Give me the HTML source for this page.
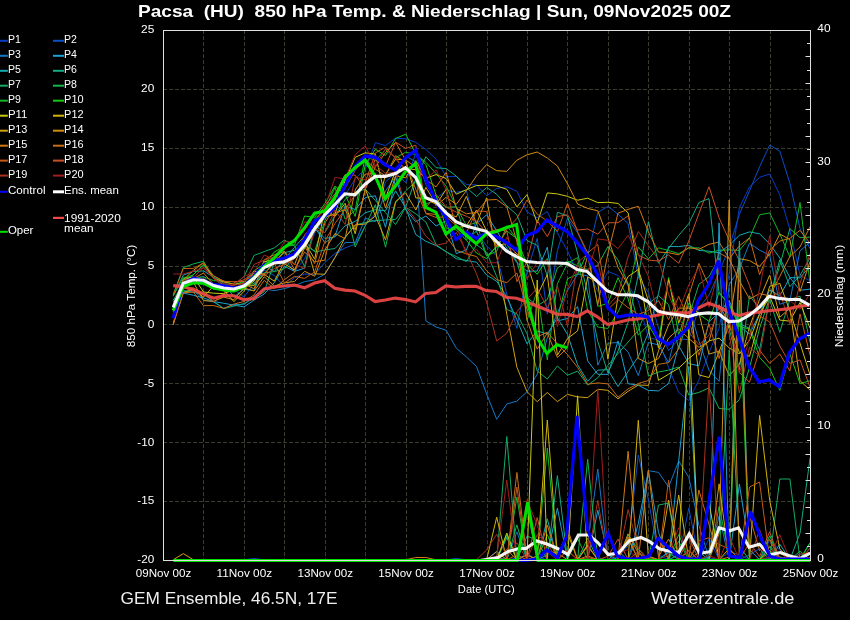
<!DOCTYPE html>
<html><head><meta charset="utf-8"><style>
html,body{margin:0;padding:0;background:#000;width:850px;height:620px;overflow:hidden}
svg{display:block;will-change:transform}
</style></head><body>
<svg width="850" height="620" viewBox="0 0 850 620" font-family='"Liberation Sans", sans-serif'><text x="138" y="17.3" font-size="16.2" text-anchor="start" fill="#fff" font-weight="bold" textLength="593" lengthAdjust="spacingAndGlyphs" xml:space="preserve">Pacsa  (HU)  850 hPa Temp. &amp; Niederschlag | Sun, 09Nov2025 00Z</text>
<line x1="203.5" y1="30.5" x2="203.5" y2="560.5" stroke="#3c3c2e" stroke-width="1" stroke-dasharray="4,2" stroke-dashoffset="0.4"/>
<line x1="244.5" y1="30.5" x2="244.5" y2="560.5" stroke="#3c3c2e" stroke-width="1" stroke-dasharray="4,2" stroke-dashoffset="0.4"/>
<line x1="284.5" y1="30.5" x2="284.5" y2="560.5" stroke="#3c3c2e" stroke-width="1" stroke-dasharray="4,2" stroke-dashoffset="0.4"/>
<line x1="325.5" y1="30.5" x2="325.5" y2="560.5" stroke="#3c3c2e" stroke-width="1" stroke-dasharray="4,2" stroke-dashoffset="0.4"/>
<line x1="365.5" y1="30.5" x2="365.5" y2="560.5" stroke="#3c3c2e" stroke-width="1" stroke-dasharray="4,2" stroke-dashoffset="0.4"/>
<line x1="406.5" y1="30.5" x2="406.5" y2="560.5" stroke="#3c3c2e" stroke-width="1" stroke-dasharray="4,2" stroke-dashoffset="0.4"/>
<line x1="446.5" y1="30.5" x2="446.5" y2="560.5" stroke="#3c3c2e" stroke-width="1" stroke-dasharray="4,2" stroke-dashoffset="0.4"/>
<line x1="487.5" y1="30.5" x2="487.5" y2="560.5" stroke="#3c3c2e" stroke-width="1" stroke-dasharray="4,2" stroke-dashoffset="0.4"/>
<line x1="527.5" y1="30.5" x2="527.5" y2="560.5" stroke="#3c3c2e" stroke-width="1" stroke-dasharray="4,2" stroke-dashoffset="0.4"/>
<line x1="567.5" y1="30.5" x2="567.5" y2="560.5" stroke="#3c3c2e" stroke-width="1" stroke-dasharray="4,2" stroke-dashoffset="0.4"/>
<line x1="608.5" y1="30.5" x2="608.5" y2="560.5" stroke="#3c3c2e" stroke-width="1" stroke-dasharray="4,2" stroke-dashoffset="0.4"/>
<line x1="648.5" y1="30.5" x2="648.5" y2="560.5" stroke="#3c3c2e" stroke-width="1" stroke-dasharray="4,2" stroke-dashoffset="0.4"/>
<line x1="689.5" y1="30.5" x2="689.5" y2="560.5" stroke="#3c3c2e" stroke-width="1" stroke-dasharray="4,2" stroke-dashoffset="0.4"/>
<line x1="729.5" y1="30.5" x2="729.5" y2="560.5" stroke="#3c3c2e" stroke-width="1" stroke-dasharray="4,2" stroke-dashoffset="0.4"/>
<line x1="770.5" y1="30.5" x2="770.5" y2="560.5" stroke="#3c3c2e" stroke-width="1" stroke-dasharray="4,2" stroke-dashoffset="0.4"/>
<line x1="163.5" y1="89.5" x2="810.5" y2="89.5" stroke="#3c3c2e" stroke-width="1" stroke-dasharray="4,2" stroke-dashoffset="0.4"/>
<line x1="163.5" y1="148.5" x2="810.5" y2="148.5" stroke="#3c3c2e" stroke-width="1" stroke-dasharray="4,2" stroke-dashoffset="0.4"/>
<line x1="163.5" y1="207.5" x2="810.5" y2="207.5" stroke="#3c3c2e" stroke-width="1" stroke-dasharray="4,2" stroke-dashoffset="0.4"/>
<line x1="163.5" y1="266.5" x2="810.5" y2="266.5" stroke="#3c3c2e" stroke-width="1" stroke-dasharray="4,2" stroke-dashoffset="0.4"/>
<line x1="163.5" y1="324.5" x2="810.5" y2="324.5" stroke="#3c3c2e" stroke-width="1" stroke-dasharray="4,2" stroke-dashoffset="0.4"/>
<line x1="163.5" y1="383.5" x2="810.5" y2="383.5" stroke="#3c3c2e" stroke-width="1" stroke-dasharray="4,2" stroke-dashoffset="0.4"/>
<line x1="163.5" y1="442.5" x2="810.5" y2="442.5" stroke="#3c3c2e" stroke-width="1" stroke-dasharray="4,2" stroke-dashoffset="0.4"/>
<line x1="163.5" y1="501.5" x2="810.5" y2="501.5" stroke="#3c3c2e" stroke-width="1" stroke-dasharray="4,2" stroke-dashoffset="0.4"/>
<text x="154.3" y="33.3" font-size="10.6" text-anchor="end" fill="#fff" font-weight="normal" textLength="13.23" lengthAdjust="spacingAndGlyphs">25</text>
<text x="154.3" y="92.18888888888888" font-size="10.6" text-anchor="end" fill="#fff" font-weight="normal" textLength="13.23" lengthAdjust="spacingAndGlyphs">20</text>
<text x="154.3" y="151.07777777777778" font-size="10.6" text-anchor="end" fill="#fff" font-weight="normal" textLength="13.23" lengthAdjust="spacingAndGlyphs">15</text>
<text x="154.3" y="209.96666666666667" font-size="10.6" text-anchor="end" fill="#fff" font-weight="normal" textLength="13.23" lengthAdjust="spacingAndGlyphs">10</text>
<text x="154.3" y="268.85555555555555" font-size="10.6" text-anchor="end" fill="#fff" font-weight="normal" textLength="6.62" lengthAdjust="spacingAndGlyphs">5</text>
<text x="154.3" y="327.74444444444447" font-size="10.6" text-anchor="end" fill="#fff" font-weight="normal" textLength="6.62" lengthAdjust="spacingAndGlyphs">0</text>
<text x="154.3" y="386.6333333333333" font-size="10.6" text-anchor="end" fill="#fff" font-weight="normal" textLength="10.37" lengthAdjust="spacingAndGlyphs">-5</text>
<text x="154.3" y="445.52222222222224" font-size="10.6" text-anchor="end" fill="#fff" font-weight="normal" textLength="16.99" lengthAdjust="spacingAndGlyphs">-10</text>
<text x="154.3" y="504.4111111111111" font-size="10.6" text-anchor="end" fill="#fff" font-weight="normal" textLength="16.99" lengthAdjust="spacingAndGlyphs">-15</text>
<text x="154.3" y="563.3" font-size="10.6" text-anchor="end" fill="#fff" font-weight="normal" textLength="16.99" lengthAdjust="spacingAndGlyphs">-20</text>
<text x="817.3" y="561.8" font-size="10.6" text-anchor="start" fill="#fff" font-weight="normal" textLength="6.62" lengthAdjust="spacingAndGlyphs">0</text>
<text x="817.3" y="429.4" font-size="10.6" text-anchor="start" fill="#fff" font-weight="normal" textLength="13.23" lengthAdjust="spacingAndGlyphs">10</text>
<text x="817.3" y="297.0" font-size="10.6" text-anchor="start" fill="#fff" font-weight="normal" textLength="13.23" lengthAdjust="spacingAndGlyphs">20</text>
<text x="817.3" y="164.60000000000002" font-size="10.6" text-anchor="start" fill="#fff" font-weight="normal" textLength="13.23" lengthAdjust="spacingAndGlyphs">30</text>
<text x="817.3" y="32.199999999999996" font-size="10.6" text-anchor="start" fill="#fff" font-weight="normal" textLength="13.23" lengthAdjust="spacingAndGlyphs">40</text>
<text x="163.5" y="577" font-size="10.6" text-anchor="middle" fill="#fff" font-weight="normal" textLength="55.53" lengthAdjust="spacingAndGlyphs">09Nov 00z</text>
<text x="244.375" y="577" font-size="10.6" text-anchor="middle" fill="#fff" font-weight="normal" textLength="55.53" lengthAdjust="spacingAndGlyphs">11Nov 00z</text>
<text x="325.25" y="577" font-size="10.6" text-anchor="middle" fill="#fff" font-weight="normal" textLength="55.53" lengthAdjust="spacingAndGlyphs">13Nov 00z</text>
<text x="406.125" y="577" font-size="10.6" text-anchor="middle" fill="#fff" font-weight="normal" textLength="55.53" lengthAdjust="spacingAndGlyphs">15Nov 00z</text>
<text x="487.0" y="577" font-size="10.6" text-anchor="middle" fill="#fff" font-weight="normal" textLength="55.53" lengthAdjust="spacingAndGlyphs">17Nov 00z</text>
<text x="567.875" y="577" font-size="10.6" text-anchor="middle" fill="#fff" font-weight="normal" textLength="55.53" lengthAdjust="spacingAndGlyphs">19Nov 00z</text>
<text x="648.75" y="577" font-size="10.6" text-anchor="middle" fill="#fff" font-weight="normal" textLength="55.53" lengthAdjust="spacingAndGlyphs">21Nov 00z</text>
<text x="729.625" y="577" font-size="10.6" text-anchor="middle" fill="#fff" font-weight="normal" textLength="55.53" lengthAdjust="spacingAndGlyphs">23Nov 00z</text>
<text x="810.5" y="577" font-size="10.6" text-anchor="middle" fill="#fff" font-weight="normal" textLength="55.53" lengthAdjust="spacingAndGlyphs">25Nov 00z</text>
<text x="486.3" y="592.6" font-size="10.6" text-anchor="middle" fill="#fff" font-weight="normal" textLength="56.9" lengthAdjust="spacingAndGlyphs">Date (UTC)</text>
<text transform="translate(134.6,296) rotate(-90)" font-size="10.6" text-anchor="middle" fill="#fff" textLength="102.5" lengthAdjust="spacingAndGlyphs">850 hPa Temp. (°C)</text>
<text transform="translate(843,296) rotate(-90)" font-size="10.6" text-anchor="middle" fill="#fff" textLength="102.5" lengthAdjust="spacingAndGlyphs">Niederschlag (mm)</text>
<text x="120.5" y="604" font-size="15.8" text-anchor="start" fill="#eee" font-weight="normal" textLength="217" lengthAdjust="spacingAndGlyphs">GEM Ensemble, 46.5N, 17E</text>
<text x="651" y="604" font-size="15.8" text-anchor="start" fill="#eee" font-weight="normal" textLength="143.5" lengthAdjust="spacingAndGlyphs">Wetterzentrale.de</text>
<line x1="0" y1="40.8" x2="7.8" y2="40.8" stroke="#0a3cc8" stroke-width="2"/>
<text x="7.8999999999999995" y="43.0" font-size="10.6" text-anchor="start" fill="#fff" font-weight="normal" textLength="12.89" lengthAdjust="spacingAndGlyphs">P1</text>
<line x1="53" y1="40.8" x2="64" y2="40.8" stroke="#0a50c8" stroke-width="2"/>
<text x="64.1" y="43.0" font-size="10.6" text-anchor="start" fill="#fff" font-weight="normal" textLength="12.89" lengthAdjust="spacingAndGlyphs">P2</text>
<line x1="0" y1="55.8" x2="7.8" y2="55.8" stroke="#1478c8" stroke-width="2"/>
<text x="7.8999999999999995" y="57.980000000000004" font-size="10.6" text-anchor="start" fill="#fff" font-weight="normal" textLength="12.89" lengthAdjust="spacingAndGlyphs">P3</text>
<line x1="53" y1="55.8" x2="64" y2="55.8" stroke="#1ea0d2" stroke-width="2"/>
<text x="64.1" y="57.980000000000004" font-size="10.6" text-anchor="start" fill="#fff" font-weight="normal" textLength="12.89" lengthAdjust="spacingAndGlyphs">P4</text>
<line x1="0" y1="70.8" x2="7.8" y2="70.8" stroke="#14aab4" stroke-width="2"/>
<text x="7.8999999999999995" y="72.96" font-size="10.6" text-anchor="start" fill="#fff" font-weight="normal" textLength="12.89" lengthAdjust="spacingAndGlyphs">P5</text>
<line x1="53" y1="70.8" x2="64" y2="70.8" stroke="#14aa82" stroke-width="2"/>
<text x="64.1" y="72.96" font-size="10.6" text-anchor="start" fill="#fff" font-weight="normal" textLength="12.89" lengthAdjust="spacingAndGlyphs">P6</text>
<line x1="0" y1="85.7" x2="7.8" y2="85.7" stroke="#14aa64" stroke-width="2"/>
<text x="7.8999999999999995" y="87.94" font-size="10.6" text-anchor="start" fill="#fff" font-weight="normal" textLength="12.89" lengthAdjust="spacingAndGlyphs">P7</text>
<line x1="53" y1="85.7" x2="64" y2="85.7" stroke="#14b450" stroke-width="2"/>
<text x="64.1" y="87.94" font-size="10.6" text-anchor="start" fill="#fff" font-weight="normal" textLength="12.89" lengthAdjust="spacingAndGlyphs">P8</text>
<line x1="0" y1="100.7" x2="7.8" y2="100.7" stroke="#14b428" stroke-width="2"/>
<text x="7.8999999999999995" y="102.92" font-size="10.6" text-anchor="start" fill="#fff" font-weight="normal" textLength="12.89" lengthAdjust="spacingAndGlyphs">P9</text>
<line x1="53" y1="100.7" x2="64" y2="100.7" stroke="#14c814" stroke-width="2"/>
<text x="64.1" y="102.92" font-size="10.6" text-anchor="start" fill="#fff" font-weight="normal" textLength="19.51" lengthAdjust="spacingAndGlyphs">P10</text>
<line x1="0" y1="115.7" x2="7.8" y2="115.7" stroke="#c8c814" stroke-width="2"/>
<text x="7.8999999999999995" y="117.9" font-size="10.6" text-anchor="start" fill="#fff" font-weight="normal" textLength="19.51" lengthAdjust="spacingAndGlyphs">P11</text>
<line x1="53" y1="115.7" x2="64" y2="115.7" stroke="#d2b40a" stroke-width="2"/>
<text x="64.1" y="117.9" font-size="10.6" text-anchor="start" fill="#fff" font-weight="normal" textLength="19.51" lengthAdjust="spacingAndGlyphs">P12</text>
<line x1="0" y1="130.7" x2="7.8" y2="130.7" stroke="#d2a014" stroke-width="2"/>
<text x="7.8999999999999995" y="132.88" font-size="10.6" text-anchor="start" fill="#fff" font-weight="normal" textLength="19.51" lengthAdjust="spacingAndGlyphs">P13</text>
<line x1="53" y1="130.7" x2="64" y2="130.7" stroke="#d28c14" stroke-width="2"/>
<text x="64.1" y="132.88" font-size="10.6" text-anchor="start" fill="#fff" font-weight="normal" textLength="19.51" lengthAdjust="spacingAndGlyphs">P14</text>
<line x1="0" y1="145.7" x2="7.8" y2="145.7" stroke="#d27814" stroke-width="2"/>
<text x="7.8999999999999995" y="147.85999999999999" font-size="10.6" text-anchor="start" fill="#fff" font-weight="normal" textLength="19.51" lengthAdjust="spacingAndGlyphs">P15</text>
<line x1="53" y1="145.7" x2="64" y2="145.7" stroke="#c86e14" stroke-width="2"/>
<text x="64.1" y="147.85999999999999" font-size="10.6" text-anchor="start" fill="#fff" font-weight="normal" textLength="19.51" lengthAdjust="spacingAndGlyphs">P16</text>
<line x1="0" y1="160.6" x2="7.8" y2="160.6" stroke="#c85a14" stroke-width="2"/>
<text x="7.8999999999999995" y="162.83999999999997" font-size="10.6" text-anchor="start" fill="#fff" font-weight="normal" textLength="19.51" lengthAdjust="spacingAndGlyphs">P17</text>
<line x1="53" y1="160.6" x2="64" y2="160.6" stroke="#c85028" stroke-width="2"/>
<text x="64.1" y="162.83999999999997" font-size="10.6" text-anchor="start" fill="#fff" font-weight="normal" textLength="19.51" lengthAdjust="spacingAndGlyphs">P18</text>
<line x1="0" y1="175.6" x2="7.8" y2="175.6" stroke="#aa321e" stroke-width="2"/>
<text x="7.8999999999999995" y="177.82" font-size="10.6" text-anchor="start" fill="#fff" font-weight="normal" textLength="19.51" lengthAdjust="spacingAndGlyphs">P19</text>
<line x1="53" y1="175.6" x2="64" y2="175.6" stroke="#a01e1e" stroke-width="2"/>
<text x="64.1" y="177.82" font-size="10.6" text-anchor="start" fill="#fff" font-weight="normal" textLength="19.51" lengthAdjust="spacingAndGlyphs">P20</text>
<line x1="0" y1="191.8" x2="7.8" y2="191.8" stroke="#0000ff" stroke-width="2"/>
<text x="7.9" y="194.0" font-size="10.6" text-anchor="start" fill="#fff" font-weight="normal" textLength="37.59" lengthAdjust="spacingAndGlyphs">Control</text>
<line x1="53" y1="191.8" x2="64" y2="191.8" stroke="#fff" stroke-width="3"/>
<text x="64.1" y="194.0" font-size="10.6" text-anchor="start" fill="#fff" font-weight="normal" textLength="54.69" lengthAdjust="spacingAndGlyphs">Ens. mean</text>
<line x1="53" y1="217.9" x2="64" y2="217.9" stroke="#f04848" stroke-width="2.2"/>
<text x="64.1" y="221.5" font-size="10.6" text-anchor="start" fill="#fff" font-weight="normal" textLength="56.69" lengthAdjust="spacingAndGlyphs">1991-2020</text>
<text x="64.1" y="231.8" font-size="10.6" text-anchor="start" fill="#fff" font-weight="normal" textLength="29.49" lengthAdjust="spacingAndGlyphs">mean</text>
<line x1="0" y1="231.8" x2="7.8" y2="231.8" stroke="#00e000" stroke-width="2"/>
<text x="7.9" y="234.0" font-size="10.6" text-anchor="start" fill="#fff" font-weight="normal" textLength="25.46" lengthAdjust="spacingAndGlyphs">Oper</text>
<clipPath id="c"><rect x="163.5" y="30.5" width="647.0" height="532.0"/></clipPath>
<g clip-path="url(#c)" fill="none" stroke-linejoin="miter" stroke-miterlimit="3">
<polyline points="173.2,306.3 183.3,279.3 193.4,280.1 203.5,281.9 213.6,285.7 223.8,285.1 233.9,290.1 244.0,285.0 254.1,272.3 264.2,267.4 274.3,259.0 284.4,258.6 294.5,271.8 304.6,258.7 314.7,233.4 324.8,218.1 335.0,207.7 345.1,194.8 355.2,178.9 365.3,168.8 375.4,142.7 385.5,145.6 395.6,138.1 405.7,138.8 415.8,142.3 425.9,149.5 436.1,159.2 446.2,176.7 456.3,176.5 466.4,184.5 476.5,184.9 486.6,195.8 496.7,188.4 506.8,186.8 516.9,191.2 527.0,211.9 537.2,217.7 547.3,211.7 557.4,232.9 567.5,250.9 577.6,273.9 587.7,268.8 597.8,291.3 607.9,271.4 618.0,275.5 628.1,285.6 638.3,300.9 648.4,337.7 658.5,340.0 668.6,367.4 678.7,392.7 688.8,400.5 698.9,379.9 709.0,352.7 719.1,328.2 729.2,273.1 739.4,207.5 749.5,187.0 759.6,177.3 769.7,174.0 779.8,194.8 789.9,229.7 800.0,275.1 810.1,280.9" stroke="#0a3cc8" stroke-width="1"/>
<polyline points="173.2,305.0 183.3,278.5 193.4,279.4 203.5,276.1 213.6,289.6 223.8,287.1 233.9,289.1 244.0,297.2 254.1,283.1 264.2,270.2 274.3,275.5 284.4,286.6 294.5,277.6 304.6,274.1 314.7,274.4 324.8,262.5 335.0,253.4 345.1,247.9 355.2,244.2 365.3,225.3 375.4,213.8 385.5,182.0 395.6,172.7 405.7,182.8 415.8,153.1 425.9,184.8 436.1,198.9 446.2,189.9 456.3,192.3 466.4,190.3 476.5,232.3 486.6,245.9 496.7,256.0 506.8,294.0 516.9,328.4 527.0,272.1 537.2,238.4 547.3,314.1 557.4,250.5 567.5,218.1 577.6,232.8 587.7,255.3 597.8,212.5 607.9,206.4 618.0,214.2 628.1,223.5 638.3,277.0 648.4,292.6 658.5,328.1 668.6,350.7 678.7,339.2 688.8,339.5 698.9,308.2 709.0,295.1 719.1,272.3 729.2,247.5 739.4,214.3 749.5,190.9 759.6,166.7 769.7,145.1 779.8,151.1 789.9,183.3 800.0,228.7 810.1,248.8" stroke="#0a50c8" stroke-width="1"/>
<polyline points="173.2,324.0 183.3,291.8 193.4,290.2 203.5,299.9 213.6,302.0 223.8,308.4 233.9,304.5 244.0,304.7 254.1,296.2 264.2,288.8 274.3,290.7 284.4,288.6 294.5,285.6 304.6,281.6 314.7,279.9 324.8,274.1 335.0,257.6 345.1,242.4 355.2,242.7 365.3,218.0 375.4,221.6 385.5,190.9 395.6,176.7 405.7,156.1 415.8,161.8 425.9,321.0 436.1,327.0 446.2,330.3 456.3,348.2 466.4,356.9 476.5,366.5 486.6,393.9 496.7,419.3 506.8,404.0 516.9,401.1 527.0,391.7 537.2,374.1 547.3,337.8 557.4,312.9 567.5,290.6 577.6,274.2 587.7,275.8 597.8,365.2 607.9,343.2 618.0,342.5 628.1,352.0 638.3,375.7 648.4,342.5 658.5,344.9 668.6,362.6 678.7,322.5 688.8,305.8 698.9,340.9 709.0,370.2 719.1,381.3 729.2,284.6 739.4,268.6 749.5,243.1 759.6,250.2 769.7,255.2 779.8,304.3 789.9,300.7 800.0,250.8 810.1,242.4" stroke="#1478c8" stroke-width="1"/>
<polyline points="173.2,300.0 183.3,293.0 193.4,295.3 203.5,297.9 213.6,301.5 223.8,303.3 233.9,305.1 244.0,306.9 254.1,300.0 264.2,294.0 274.3,282.6 284.4,266.2 294.5,271.4 304.6,268.2 314.7,227.0 324.8,242.8 335.0,236.0 345.1,206.2 355.2,209.5 365.3,197.5 375.4,195.8 385.5,227.3 395.6,176.8 405.7,209.7 415.8,221.8 425.9,216.0 436.1,226.0 446.2,220.7 456.3,253.5 466.4,250.1 476.5,223.7 486.6,214.9 496.7,230.7 506.8,248.1 516.9,262.6 527.0,271.1 537.2,271.1 547.3,247.2 557.4,321.0 567.5,318.4 577.6,306.5 587.7,360.9 597.8,374.3 607.9,374.4 618.0,340.9 628.1,383.7 638.3,385.2 648.4,390.4 658.5,390.9 668.6,383.6 678.7,345.7 688.8,363.7 698.9,365.8 709.0,321.7 719.1,312.6 729.2,300.5 739.4,325.8 749.5,334.2 759.6,313.7 769.7,290.0 779.8,295.8 789.9,277.7 800.0,290.3 810.1,289.1" stroke="#1ea0d2" stroke-width="1"/>
<polyline points="173.2,296.2 183.3,275.1 193.4,271.4 203.5,270.9 213.6,277.3 223.8,283.3 233.9,296.9 244.0,289.4 254.1,290.4 264.2,265.2 274.3,271.6 284.4,259.3 294.5,247.4 304.6,235.9 314.7,228.1 324.8,238.4 335.0,236.9 345.1,225.8 355.2,221.4 365.3,212.7 375.4,209.7 385.5,210.8 395.6,190.8 405.7,208.1 415.8,234.6 425.9,241.3 436.1,245.6 446.2,251.5 456.3,258.7 466.4,260.5 476.5,262.2 486.6,275.1 496.7,281.3 506.8,296.7 516.9,319.9 527.0,343.8 537.2,331.0 547.3,334.0 557.4,317.8 567.5,334.5 577.6,364.8 587.7,381.3 597.8,370.1 607.9,369.7 618.0,386.5 628.1,371.5 638.3,356.7 648.4,332.8 658.5,293.4 668.6,246.5 678.7,246.6 688.8,245.3 698.9,250.4 709.0,251.2 719.1,252.8 729.2,245.3 739.4,235.3 749.5,231.9 759.6,233.8 769.7,243.9 779.8,258.0 789.9,277.6 800.0,277.9 810.1,265.8" stroke="#14aab4" stroke-width="1"/>
<polyline points="173.2,302.0 183.3,290.5 193.4,292.2 203.5,294.4 213.6,301.3 223.8,308.5 233.9,306.1 244.0,303.5 254.1,298.2 264.2,291.8 274.3,262.1 284.4,252.7 294.5,250.2 304.6,240.6 314.7,252.0 324.8,250.0 335.0,248.5 345.1,237.5 355.2,224.9 365.3,222.5 375.4,220.6 385.5,220.0 395.6,219.4 405.7,206.8 415.8,178.8 425.9,156.7 436.1,167.7 446.2,168.6 456.3,176.1 466.4,187.4 476.5,196.5 486.6,187.5 496.7,194.3 506.8,205.9 516.9,214.8 527.0,240.5 537.2,245.4 547.3,276.1 557.4,212.2 567.5,216.0 577.6,253.3 587.7,292.8 597.8,341.5 607.9,372.7 618.0,351.1 628.1,322.2 638.3,275.3 648.4,221.6 658.5,263.2 668.6,248.4 678.7,235.4 688.8,223.6 698.9,202.5 709.0,198.6 719.1,293.4 729.2,303.9 739.4,323.8 749.5,328.3 759.6,349.7 769.7,298.4 779.8,259.8 789.9,286.7 800.0,275.4 810.1,257.8" stroke="#14aa82" stroke-width="1"/>
<polyline points="173.2,300.4 183.3,282.8 193.4,274.5 203.5,265.1 213.6,277.8 223.8,284.9 233.9,285.1 244.0,276.5 254.1,255.4 264.2,251.6 274.3,247.9 284.4,240.0 294.5,245.7 304.6,266.6 314.7,225.5 324.8,232.7 335.0,215.7 345.1,199.3 355.2,192.4 365.3,189.2 375.4,200.5 385.5,212.6 395.6,224.6 405.7,207.2 415.8,213.8 425.9,222.1 436.1,244.5 446.2,252.1 456.3,256.5 466.4,261.6 476.5,244.7 486.6,252.3 496.7,276.6 506.8,309.5 516.9,313.7 527.0,333.8 537.2,371.0 547.3,379.0 557.4,366.0 567.5,375.2 577.6,371.1 587.7,385.1 597.8,377.8 607.9,365.3 618.0,353.6 628.1,342.0 638.3,330.4 648.4,303.8 658.5,295.7 668.6,304.6 678.7,349.3 688.8,316.4 698.9,284.3 709.0,276.7 719.1,257.8 729.2,328.8 739.4,369.5 749.5,295.7 759.6,308.7 769.7,299.6 779.8,332.3 789.9,299.5 800.0,296.2 810.1,342.7" stroke="#14aa64" stroke-width="1"/>
<polyline points="173.2,294.5 183.3,267.6 193.4,263.9 203.5,261.3 213.6,278.0 223.8,281.1 233.9,291.8 244.0,286.0 254.1,285.1 264.2,272.9 274.3,271.6 284.4,268.8 294.5,256.9 304.6,245.3 314.7,251.1 324.8,220.7 335.0,199.3 345.1,206.6 355.2,247.0 365.3,225.8 375.4,204.7 385.5,247.2 395.6,202.8 405.7,190.8 415.8,181.6 425.9,204.0 436.1,200.0 446.2,207.3 456.3,206.8 466.4,239.8 476.5,231.1 486.6,256.0 496.7,247.2 506.8,243.9 516.9,261.5 527.0,297.5 537.2,305.8 547.3,299.6 557.4,267.9 567.5,261.0 577.6,265.8 587.7,269.7 597.8,265.3 607.9,246.6 618.0,260.0 628.1,283.5 638.3,323.6 648.4,376.1 658.5,372.0 668.6,370.1 678.7,367.0 688.8,395.1 698.9,392.4 709.0,387.9 719.1,408.5 729.2,409.3 739.4,399.5 749.5,367.8 759.6,328.3 769.7,297.8 779.8,265.5 789.9,228.7 800.0,237.7 810.1,237.1" stroke="#14b450" stroke-width="1"/>
<polyline points="173.2,296.1 183.3,277.2 193.4,278.0 203.5,276.9 213.6,280.6 223.8,281.0 233.9,285.2 244.0,281.1 254.1,283.5 264.2,273.7 274.3,261.9 284.4,257.1 294.5,256.7 304.6,248.6 314.7,218.8 324.8,209.9 335.0,187.4 345.1,219.1 355.2,210.3 365.3,155.8 375.4,160.7 385.5,149.6 395.6,157.9 405.7,152.2 415.8,154.5 425.9,162.3 436.1,173.5 446.2,186.2 456.3,206.8 466.4,225.5 476.5,222.6 486.6,255.8 496.7,251.3 506.8,225.8 516.9,239.1 527.0,320.4 537.2,291.1 547.3,359.9 557.4,283.6 567.5,263.2 577.6,257.6 587.7,310.7 597.8,327.0 607.9,328.5 618.0,312.0 628.1,291.3 638.3,246.9 648.4,259.0 658.5,247.8 668.6,250.5 678.7,253.6 688.8,248.0 698.9,247.8 709.0,253.1 719.1,250.2 729.2,249.9 739.4,250.4 749.5,238.1 759.6,214.8 769.7,212.9 779.8,233.9 789.9,257.0 800.0,202.4 810.1,283.8" stroke="#14b428" stroke-width="1"/>
<polyline points="173.2,308.3 183.3,278.8 193.4,274.8 203.5,264.2 213.6,276.0 223.8,281.3 233.9,284.3 244.0,282.4 254.1,270.6 264.2,264.2 274.3,252.0 284.4,246.5 294.5,245.0 304.6,216.0 314.7,217.4 324.8,203.7 335.0,186.0 345.1,194.5 355.2,216.4 365.3,164.5 375.4,149.3 385.5,155.5 395.6,138.5 405.7,134.2 415.8,153.9 425.9,164.6 436.1,195.2 446.2,228.0 456.3,229.9 466.4,240.2 476.5,253.1 486.6,258.6 496.7,245.6 506.8,230.9 516.9,238.7 527.0,264.6 537.2,274.2 547.3,258.5 557.4,318.6 567.5,278.8 577.6,274.1 587.7,251.5 597.8,306.4 607.9,303.4 618.0,277.7 628.1,298.7 638.3,335.2 648.4,324.9 658.5,341.9 668.6,277.5 678.7,335.2 688.8,303.1 698.9,314.1 709.0,321.4 719.1,292.4 729.2,305.0 739.4,326.4 749.5,329.2 759.6,357.4 769.7,368.5 779.8,390.3 789.9,353.8 800.0,383.5 810.1,380.8" stroke="#14c814" stroke-width="1"/>
<polyline points="173.2,311.7 183.3,280.1 193.4,276.6 203.5,292.0 213.6,293.2 223.8,293.6 233.9,289.8 244.0,288.7 254.1,281.1 264.2,261.8 274.3,259.2 284.4,263.7 294.5,270.2 304.6,247.9 314.7,231.3 324.8,216.9 335.0,214.2 345.1,180.5 355.2,157.3 365.3,152.8 375.4,154.2 385.5,198.0 395.6,170.4 405.7,168.2 415.8,169.8 425.9,178.3 436.1,174.6 446.2,178.5 456.3,194.2 466.4,189.7 476.5,185.5 486.6,185.3 496.7,185.9 506.8,189.3 516.9,206.9 527.0,194.6 537.2,222.9 547.3,192.9 557.4,193.9 567.5,196.4 577.6,200.2 587.7,198.2 597.8,202.6 607.9,202.3 618.0,203.4 628.1,212.9 638.3,267.7 648.4,328.5 658.5,380.3 668.6,374.2 678.7,368.2 688.8,358.6 698.9,350.1 709.0,340.9 719.1,338.2 729.2,347.9 739.4,353.8 749.5,340.1 759.6,314.3 769.7,296.7 779.8,320.1 789.9,321.1 800.0,302.5 810.1,328.4" stroke="#c8c814" stroke-width="1"/>
<polyline points="173.2,323.2 183.3,292.7 193.4,289.0 203.5,297.1 213.6,285.9 223.8,290.3 233.9,301.6 244.0,291.3 254.1,271.0 264.2,274.4 274.3,281.2 284.4,261.9 294.5,256.7 304.6,242.1 314.7,259.2 324.8,209.0 335.0,216.4 345.1,203.3 355.2,233.8 365.3,188.8 375.4,216.2 385.5,174.3 395.6,159.1 405.7,159.8 415.8,197.9 425.9,198.4 436.1,204.6 446.2,189.2 456.3,228.0 466.4,225.8 476.5,210.0 486.6,231.0 496.7,246.2 506.8,243.1 516.9,254.0 527.0,263.2 537.2,295.5 547.3,274.7 557.4,355.2 567.5,338.6 577.6,330.8 587.7,276.9 597.8,282.4 607.9,359.2 618.0,297.0 628.1,276.5 638.3,269.5 648.4,300.9 658.5,348.2 668.6,279.6 678.7,322.9 688.8,293.7 698.9,374.9 709.0,377.5 719.1,351.7 729.2,325.2 739.4,352.4 749.5,356.3 759.6,320.1 769.7,286.3 779.8,283.4 789.9,310.8 800.0,343.2 810.1,375.1" stroke="#d2b40a" stroke-width="1"/>
<polyline points="173.2,306.1 183.3,280.0 193.4,270.4 203.5,262.6 213.6,278.5 223.8,282.0 233.9,284.2 244.0,283.7 254.1,285.7 264.2,274.2 274.3,262.6 284.4,251.2 294.5,264.8 304.6,238.8 314.7,273.8 324.8,274.3 335.0,257.3 345.1,237.4 355.2,225.0 365.3,224.0 375.4,216.0 385.5,239.7 395.6,201.5 405.7,192.9 415.8,210.0 425.9,187.4 436.1,204.1 446.2,213.0 456.3,216.9 466.4,196.3 476.5,223.8 486.6,197.8 496.7,256.0 506.8,314.3 516.9,367.3 527.0,391.6 537.2,401.7 547.3,392.5 557.4,401.6 567.5,394.4 577.6,396.9 587.7,397.6 597.8,389.3 607.9,390.3 618.0,398.8 628.1,391.3 638.3,385.0 648.4,385.4 658.5,350.8 668.6,324.9 678.7,308.1 688.8,308.1 698.9,312.9 709.0,354.1 719.1,351.1 729.2,375.8 739.4,364.2 749.5,326.9 759.6,299.3 769.7,275.2 779.8,317.2 789.9,308.3 800.0,380.6 810.1,390.2" stroke="#d2a014" stroke-width="1"/>
<polyline points="173.2,313.6 183.3,286.3 193.4,282.2 203.5,300.6 213.6,301.3 223.8,297.1 233.9,299.7 244.0,287.9 254.1,291.1 264.2,276.7 274.3,286.0 284.4,282.8 294.5,281.5 304.6,271.3 314.7,276.2 324.8,250.2 335.0,233.5 345.1,238.7 355.2,190.0 365.3,174.0 375.4,173.7 385.5,208.1 395.6,175.8 405.7,177.8 415.8,160.6 425.9,178.9 436.1,206.0 446.2,197.2 456.3,204.3 466.4,190.6 476.5,175.9 486.6,164.6 496.7,170.7 506.8,171.3 516.9,160.2 527.0,154.8 537.2,152.0 547.3,158.0 557.4,166.1 567.5,183.8 577.6,204.0 587.7,208.4 597.8,210.8 607.9,237.9 618.0,267.4 628.1,284.7 638.3,358.4 648.4,363.6 658.5,358.5 668.6,338.1 678.7,329.0 688.8,338.4 698.9,347.3 709.0,341.5 719.1,304.7 729.2,323.5 739.4,258.7 749.5,260.6 759.6,266.4 769.7,254.2 779.8,234.0 789.9,239.6 800.0,291.5 810.1,261.4" stroke="#d28c14" stroke-width="1"/>
<polyline points="173.2,325.0 183.3,287.5 193.4,278.7 203.5,273.0 213.6,284.4 223.8,285.6 233.9,290.5 244.0,284.0 254.1,288.7 264.2,259.8 274.3,254.7 284.4,251.5 294.5,269.6 304.6,252.0 314.7,261.6 324.8,260.2 335.0,213.2 345.1,209.6 355.2,229.7 365.3,189.3 375.4,166.8 385.5,152.6 395.6,142.4 405.7,160.1 415.8,167.0 425.9,179.7 436.1,186.9 446.2,172.4 456.3,208.3 466.4,213.8 476.5,212.4 486.6,200.0 496.7,199.5 506.8,206.8 516.9,241.5 527.0,319.9 537.2,349.1 547.3,333.2 557.4,357.5 567.5,347.7 577.6,292.8 587.7,255.8 597.8,304.7 607.9,253.6 618.0,213.2 628.1,209.4 638.3,206.3 648.4,232.0 658.5,252.1 668.6,252.7 678.7,254.8 688.8,247.6 698.9,249.3 709.0,244.3 719.1,242.1 729.2,258.3 739.4,280.8 749.5,298.9 759.6,293.7 769.7,295.8 779.8,276.4 789.9,256.4 800.0,247.0 810.1,226.6" stroke="#d27814" stroke-width="1"/>
<polyline points="173.2,324.9 183.3,292.8 193.4,292.1 203.5,305.7 213.6,305.5 223.8,308.5 233.9,304.1 244.0,301.5 254.1,294.9 264.2,280.4 274.3,288.8 284.4,279.7 294.5,272.4 304.6,246.2 314.7,263.7 324.8,223.1 335.0,207.1 345.1,188.2 355.2,170.2 365.3,158.8 375.4,169.2 385.5,175.8 395.6,155.6 405.7,162.5 415.8,189.4 425.9,213.3 436.1,214.5 446.2,236.1 456.3,250.2 466.4,253.9 476.5,256.5 486.6,270.9 496.7,279.6 506.8,282.7 516.9,273.0 527.0,309.1 537.2,336.9 547.3,332.1 557.4,343.9 567.5,354.6 577.6,367.4 587.7,384.2 597.8,382.9 607.9,383.9 618.0,397.2 628.1,388.9 638.3,383.5 648.4,380.5 658.5,364.3 668.6,362.6 678.7,348.9 688.8,295.8 698.9,263.4 709.0,286.0 719.1,252.8 729.2,258.7 739.4,245.8 749.5,237.8 759.6,274.7 769.7,250.0 779.8,241.1 789.9,238.3 800.0,230.3 810.1,243.3" stroke="#c86e14" stroke-width="1"/>
<polyline points="173.2,295.4 183.3,268.5 193.4,268.4 203.5,263.1 213.6,275.7 223.8,281.3 233.9,281.7 244.0,281.5 254.1,274.8 264.2,274.1 274.3,263.2 284.4,282.8 294.5,276.4 304.6,278.4 314.7,271.9 324.8,241.4 335.0,223.4 345.1,209.4 355.2,194.7 365.3,182.6 375.4,152.9 385.5,147.1 395.6,158.6 405.7,171.0 415.8,178.4 425.9,213.7 436.1,217.4 446.2,216.8 456.3,225.7 466.4,232.5 476.5,210.9 486.6,211.5 496.7,246.8 506.8,229.7 516.9,218.4 527.0,200.0 537.2,214.1 547.3,221.0 557.4,231.4 567.5,203.6 577.6,231.9 587.7,252.9 597.8,244.5 607.9,309.5 618.0,299.7 628.1,307.7 638.3,314.4 648.4,310.5 658.5,300.7 668.6,319.6 678.7,296.4 688.8,319.6 698.9,355.3 709.0,323.9 719.1,358.6 729.2,319.4 739.4,372.4 749.5,382.3 759.6,350.1 769.7,363.4 779.8,354.0 789.9,371.0 800.0,313.9 810.1,355.4" stroke="#c85a14" stroke-width="1"/>
<polyline points="173.2,318.2 183.3,287.9 193.4,287.8 203.5,293.2 213.6,301.8 223.8,293.6 233.9,282.6 244.0,279.8 254.1,273.1 264.2,275.7 274.3,268.5 284.4,264.5 294.5,258.8 304.6,235.0 314.7,222.7 324.8,205.7 335.0,193.8 345.1,174.5 355.2,175.2 365.3,188.9 375.4,158.6 385.5,166.2 395.6,142.1 405.7,148.4 415.8,145.2 425.9,207.7 436.1,194.5 446.2,207.1 456.3,212.1 466.4,216.3 476.5,221.0 486.6,232.9 496.7,229.4 506.8,231.0 516.9,281.8 527.0,261.3 537.2,220.5 547.3,236.7 557.4,216.6 567.5,214.7 577.6,230.1 587.7,229.0 597.8,234.2 607.9,222.8 618.0,222.7 628.1,215.9 638.3,255.1 648.4,260.0 658.5,261.1 668.6,255.0 678.7,263.2 688.8,241.1 698.9,213.6 709.0,186.8 719.1,217.8 729.2,240.3 739.4,260.7 749.5,285.4 759.6,315.9 769.7,322.0 779.8,346.0 789.9,363.5 800.0,359.9 810.1,387.5" stroke="#c85028" stroke-width="1"/>
<polyline points="173.2,305.5 183.3,280.4 193.4,277.9 203.5,267.0 213.6,278.5 223.8,286.4 233.9,285.3 244.0,283.2 254.1,264.4 264.2,260.1 274.3,256.9 284.4,259.3 294.5,264.1 304.6,268.6 314.7,229.2 324.8,232.6 335.0,210.1 345.1,224.5 355.2,177.2 365.3,179.7 375.4,164.9 385.5,173.5 395.6,172.0 405.7,206.9 415.8,219.6 425.9,236.2 436.1,245.3 446.2,243.1 456.3,232.5 466.4,251.2 476.5,273.9 486.6,302.0 496.7,341.0 506.8,333.2 516.9,311.7 527.0,299.6 537.2,288.0 547.3,308.0 557.4,286.4 567.5,326.3 577.6,262.7 587.7,253.4 597.8,262.7 607.9,305.8 618.0,294.7 628.1,256.9 638.3,231.5 648.4,245.5 658.5,259.5 668.6,294.5 678.7,318.5 688.8,332.2 698.9,344.8 709.0,335.3 719.1,307.8 729.2,334.0 739.4,392.9 749.5,347.2 759.6,356.3 769.7,298.6 779.8,292.2 789.9,324.0 800.0,283.5 810.1,253.4" stroke="#aa321e" stroke-width="1"/>
<polyline points="173.2,274.0 183.3,274.0 193.4,271.1 203.5,268.1 213.6,278.2 223.8,283.8 233.9,284.6 244.0,276.3 254.1,272.3 264.2,255.0 274.3,259.6 284.4,241.5 294.5,242.1 304.6,221.8 314.7,223.6 324.8,207.7 335.0,177.4 345.1,178.9 355.2,154.6 365.3,145.9 375.4,166.5 385.5,148.5 395.6,158.0 405.7,169.0 415.8,164.5 425.9,179.4 436.1,169.9 446.2,190.0 456.3,225.6 466.4,254.5 476.5,249.4 486.6,262.9 496.7,262.7 506.8,237.2 516.9,256.6 527.0,278.9 537.2,262.5 547.3,260.2 557.4,326.8 567.5,288.6 577.6,265.4 587.7,272.3 597.8,238.9 607.9,240.3 618.0,248.7 628.1,235.3 638.3,254.5 648.4,276.4 658.5,317.0 668.6,282.9 678.7,310.6 688.8,284.9 698.9,267.3 709.0,307.2 719.1,268.6 729.2,317.0 739.4,373.3 749.5,338.4 759.6,288.5 769.7,235.6 779.8,295.8 789.9,300.5 800.0,309.3 810.1,293.4" stroke="#a01e1e" stroke-width="1"/>
<polyline points="173.2,559.8 183.3,559.8 193.4,559.8 203.5,559.8 213.6,559.8 223.8,559.8 233.9,559.8 244.0,559.8 254.1,558.5 264.2,559.8 274.3,559.8 284.4,559.8 294.5,559.8 304.6,559.8 314.7,559.8 324.8,559.8 335.0,559.8 345.1,559.8 355.2,559.8 365.3,559.8 375.4,559.8 385.5,559.8 395.6,559.8 405.7,559.8 415.8,559.8 425.9,559.8 436.1,559.8 446.2,559.8 456.3,559.8 466.4,559.8 476.5,559.8 486.6,559.8 496.7,551.2 506.8,559.8 516.9,557.9 527.0,559.8 537.2,556.8 547.3,559.8 557.4,559.8 567.5,559.8 577.6,559.8 587.7,559.8 597.8,557.7 607.9,559.8 618.0,559.8 628.1,559.8 638.3,559.8 648.4,559.8 658.5,559.8 668.6,550.9 678.7,559.8 688.8,559.8 698.9,559.8 709.0,538.7 719.1,559.8 729.2,551.9 739.4,554.5 749.5,559.8 759.6,559.8 769.7,540.0 779.8,550.2 789.9,558.8 800.0,553.7 810.1,559.8" stroke="#0a3cc8" stroke-width="1"/>
<polyline points="173.2,559.8 183.3,559.8 193.4,559.8 203.5,559.8 213.6,559.8 223.8,559.8 233.9,559.8 244.0,559.8 254.1,559.8 264.2,559.8 274.3,559.8 284.4,559.8 294.5,559.8 304.6,559.8 314.7,559.8 324.8,559.8 335.0,559.8 345.1,559.8 355.2,559.8 365.3,559.8 375.4,559.8 385.5,559.8 395.6,559.8 405.7,559.8 415.8,559.8 425.9,559.8 436.1,559.8 446.2,559.8 456.3,558.5 466.4,559.8 476.5,559.8 486.6,559.8 496.7,559.8 506.8,559.8 516.9,559.8 527.0,554.8 537.2,559.8 547.3,559.8 557.4,559.8 567.5,559.6 577.6,559.8 587.7,559.8 597.8,559.8 607.9,559.8 618.0,557.0 628.1,545.9 638.3,455.0 648.4,500.0 658.5,555.0 668.6,559.8 678.7,559.8 688.8,507.9 698.9,559.6 709.0,557.7 719.1,559.8 729.2,559.8 739.4,559.8 749.5,554.8 759.6,548.7 769.7,559.8 779.8,559.8 789.9,559.8 800.0,559.8 810.1,559.8" stroke="#0a50c8" stroke-width="1"/>
<polyline points="173.2,559.8 183.3,559.8 193.4,559.8 203.5,559.8 213.6,559.8 223.8,559.8 233.9,559.8 244.0,559.8 254.1,559.8 264.2,559.8 274.3,559.8 284.4,559.8 294.5,559.8 304.6,559.8 314.7,559.8 324.8,559.8 335.0,559.8 345.1,559.8 355.2,559.8 365.3,559.8 375.4,559.8 385.5,559.8 395.6,559.8 405.7,559.8 415.8,559.8 425.9,559.8 436.1,559.8 446.2,559.8 456.3,559.8 466.4,559.8 476.5,559.8 486.6,559.8 496.7,557.0 506.8,559.8 516.9,531.9 527.0,559.8 537.2,559.8 547.3,559.8 557.4,559.8 567.5,559.8 577.6,559.8 587.7,544.4 597.8,469.0 607.9,559.8 618.0,559.8 628.1,559.8 638.3,534.9 648.4,470.7 658.5,472.4 668.6,487.0 678.7,461.0 688.8,477.3 698.9,525.3 709.0,558.2 719.1,515.9 729.2,559.8 739.4,559.8 749.5,559.8 759.6,559.8 769.7,557.6 779.8,559.8 789.9,559.8 800.0,557.6 810.1,559.8" stroke="#1478c8" stroke-width="1"/>
<polyline points="173.2,559.8 183.3,559.8 193.4,559.8 203.5,559.8 213.6,559.8 223.8,559.8 233.9,559.8 244.0,559.8 254.1,559.8 264.2,559.8 274.3,559.8 284.4,559.8 294.5,559.8 304.6,559.8 314.7,559.8 324.8,559.8 335.0,559.8 345.1,559.8 355.2,559.8 365.3,559.8 375.4,559.8 385.5,559.8 395.6,559.8 405.7,559.8 415.8,559.8 425.9,559.8 436.1,559.8 446.2,559.8 456.3,559.8 466.4,559.8 476.5,559.8 486.6,559.8 496.7,559.8 506.8,559.8 516.9,559.8 527.0,554.1 537.2,559.8 547.3,554.9 557.4,508.1 567.5,559.8 577.6,559.8 587.7,559.8 597.8,510.2 607.9,555.1 618.0,559.8 628.1,559.8 638.3,523.6 648.4,470.7 658.5,532.4 668.6,559.8 678.7,461.0 688.8,366.5 698.9,559.8 709.0,559.8 719.1,222.9 729.2,559.8 739.4,484.1 749.5,549.6 759.6,559.8 769.7,547.0 779.8,559.8 789.9,559.8 800.0,559.8 810.1,559.8" stroke="#1ea0d2" stroke-width="1"/>
<polyline points="173.2,559.8 183.3,559.8 193.4,559.8 203.5,559.8 213.6,559.8 223.8,559.8 233.9,559.8 244.0,559.8 254.1,559.8 264.2,559.8 274.3,559.8 284.4,559.8 294.5,559.8 304.6,559.8 314.7,559.8 324.8,559.8 335.0,559.8 345.1,559.8 355.2,559.8 365.3,559.8 375.4,559.8 385.5,559.8 395.6,559.8 405.7,559.8 415.8,559.8 425.9,559.8 436.1,559.8 446.2,559.8 456.3,559.8 466.4,559.8 476.5,559.8 486.6,559.8 496.7,559.8 506.8,536.9 516.9,559.8 527.0,559.8 537.2,559.8 547.3,518.8 557.4,559.8 567.5,559.8 577.6,559.8 587.7,559.8 597.8,559.8 607.9,559.8 618.0,551.2 628.1,559.8 638.3,559.8 648.4,559.8 658.5,559.8 668.6,559.8 678.7,554.6 688.8,559.8 698.9,552.0 709.0,559.8 719.1,559.8 729.2,559.8 739.4,241.0 749.5,559.8 759.6,559.8 769.7,559.8 779.8,544.2 789.9,559.8 800.0,559.0 810.1,542.7" stroke="#14aab4" stroke-width="1"/>
<polyline points="173.2,559.8 183.3,559.8 193.4,559.8 203.5,559.8 213.6,559.8 223.8,559.8 233.9,559.8 244.0,559.8 254.1,559.8 264.2,559.8 274.3,559.8 284.4,559.8 294.5,559.8 304.6,559.8 314.7,559.8 324.8,559.8 335.0,559.8 345.1,559.8 355.2,559.8 365.3,559.8 375.4,559.8 385.5,559.8 395.6,559.8 405.7,559.8 415.8,559.8 425.9,559.8 436.1,559.8 446.2,559.8 456.3,559.8 466.4,559.8 476.5,559.8 486.6,559.8 496.7,559.8 506.8,537.7 516.9,559.8 527.0,536.2 537.2,539.8 547.3,559.8 557.4,475.6 567.5,559.8 577.6,559.8 587.7,559.8 597.8,559.8 607.9,559.8 618.0,559.8 628.1,558.3 638.3,559.8 648.4,559.8 658.5,559.3 668.6,552.7 678.7,559.8 688.8,559.8 698.9,557.6 709.0,559.8 719.1,559.8 729.2,559.8 739.4,559.8 749.5,559.8 759.6,559.8 769.7,559.8 779.8,559.8 789.9,559.8 800.0,533.1 810.1,457.7" stroke="#14aa82" stroke-width="1"/>
<polyline points="173.2,559.8 183.3,559.8 193.4,559.8 203.5,559.8 213.6,559.8 223.8,559.8 233.9,559.8 244.0,559.8 254.1,559.8 264.2,559.8 274.3,559.8 284.4,559.8 294.5,559.8 304.6,559.8 314.7,559.8 324.8,559.8 335.0,559.8 345.1,559.8 355.2,559.8 365.3,559.8 375.4,559.8 385.5,559.8 395.6,559.8 405.7,559.8 415.8,559.8 425.9,559.8 436.1,559.8 446.2,559.8 456.3,559.8 466.4,559.8 476.5,559.8 486.6,559.8 496.7,559.8 506.8,436.5 516.9,559.8 527.0,508.3 537.2,559.8 547.3,559.8 557.4,559.8 567.5,559.8 577.6,559.8 587.7,538.1 597.8,559.8 607.9,559.8 618.0,559.8 628.1,559.8 638.3,559.8 648.4,559.8 658.5,505.0 668.6,503.1 678.7,559.8 688.8,559.8 698.9,543.4 709.0,559.8 719.1,559.6 729.2,559.8 739.4,559.8 749.5,559.8 759.6,559.8 769.7,559.8 779.8,479.0 789.9,479.0 800.0,559.8 810.1,559.8" stroke="#14aa64" stroke-width="1"/>
<polyline points="173.2,559.8 183.3,559.8 193.4,559.8 203.5,559.8 213.6,559.8 223.8,559.8 233.9,559.8 244.0,559.8 254.1,559.8 264.2,559.8 274.3,559.8 284.4,559.8 294.5,559.8 304.6,559.8 314.7,559.8 324.8,559.8 335.0,559.8 345.1,559.8 355.2,559.8 365.3,559.8 375.4,559.8 385.5,559.8 395.6,559.8 405.7,559.8 415.8,559.8 425.9,559.8 436.1,559.8 446.2,559.8 456.3,559.8 466.4,559.8 476.5,559.8 486.6,559.8 496.7,559.8 506.8,559.8 516.9,524.9 527.0,559.7 537.2,559.8 547.3,559.8 557.4,559.8 567.5,559.8 577.6,559.8 587.7,459.3 597.8,559.8 607.9,559.8 618.0,559.8 628.1,559.8 638.3,559.8 648.4,558.6 658.5,559.8 668.6,559.6 678.7,541.2 688.8,559.8 698.9,559.8 709.0,559.8 719.1,559.8 729.2,350.0 739.4,546.7 749.5,559.8 759.6,559.8 769.7,535.8 779.8,559.8 789.9,559.8 800.0,559.8 810.1,559.8" stroke="#14b450" stroke-width="1"/>
<polyline points="173.2,559.8 183.3,559.8 193.4,559.8 203.5,559.8 213.6,559.8 223.8,559.8 233.9,559.8 244.0,559.8 254.1,559.8 264.2,559.8 274.3,559.8 284.4,559.8 294.5,559.8 304.6,559.8 314.7,559.8 324.8,559.8 335.0,559.8 345.1,559.8 355.2,559.8 365.3,559.8 375.4,559.8 385.5,559.8 395.6,559.8 405.7,559.8 415.8,559.8 425.9,559.8 436.1,559.8 446.2,559.8 456.3,559.8 466.4,559.8 476.5,559.8 486.6,559.8 496.7,559.8 506.8,559.8 516.9,497.1 527.0,559.8 537.2,559.8 547.3,448.0 557.4,559.8 567.5,559.5 577.6,538.7 587.7,559.8 597.8,559.8 607.9,559.8 618.0,559.8 628.1,534.8 638.3,549.3 648.4,559.8 658.5,559.8 668.6,559.8 678.7,534.5 688.8,559.2 698.9,559.5 709.0,559.8 719.1,506.5 729.2,555.3 739.4,559.8 749.5,559.8 759.6,559.8 769.7,545.9 779.8,556.8 789.9,559.8 800.0,551.2 810.1,559.8" stroke="#14b428" stroke-width="1"/>
<polyline points="173.2,559.8 183.3,559.8 193.4,559.8 203.5,559.8 213.6,559.8 223.8,559.8 233.9,559.8 244.0,559.8 254.1,559.8 264.2,559.8 274.3,559.8 284.4,559.8 294.5,559.8 304.6,559.8 314.7,559.8 324.8,559.8 335.0,559.8 345.1,559.8 355.2,559.8 365.3,559.8 375.4,559.8 385.5,559.8 395.6,559.8 405.7,559.8 415.8,559.8 425.9,559.8 436.1,559.8 446.2,559.8 456.3,559.8 466.4,559.8 476.5,559.8 486.6,559.8 496.7,559.8 506.8,534.9 516.9,559.8 527.0,559.8 537.2,559.8 547.3,534.6 557.4,559.8 567.5,559.8 577.6,559.8 587.7,559.8 597.8,559.8 607.9,531.4 618.0,559.8 628.1,559.8 638.3,559.8 648.4,559.8 658.5,559.8 668.6,559.8 678.7,559.8 688.8,559.8 698.9,559.8 709.0,559.8 719.1,559.8 729.2,559.8 739.4,300.0 749.5,559.8 759.6,559.8 769.7,552.6 779.8,559.8 789.9,559.8 800.0,559.8 810.1,542.9" stroke="#14c814" stroke-width="1"/>
<polyline points="173.2,559.8 183.3,559.8 193.4,559.8 203.5,559.8 213.6,559.8 223.8,559.8 233.9,559.8 244.0,559.8 254.1,559.8 264.2,559.8 274.3,559.8 284.4,559.8 294.5,559.8 304.6,559.8 314.7,559.8 324.8,559.8 335.0,559.8 345.1,559.8 355.2,559.8 365.3,559.8 375.4,559.8 385.5,559.8 395.6,559.8 405.7,559.8 415.8,559.8 425.9,559.8 436.1,559.8 446.2,559.8 456.3,559.8 466.4,559.8 476.5,559.8 486.6,559.8 496.7,559.8 506.8,533.0 516.9,559.8 527.0,559.8 537.2,280.0 547.3,559.8 557.4,559.8 567.5,559.8 577.6,395.8 587.7,559.8 597.8,559.8 607.9,559.8 618.0,559.8 628.1,559.8 638.3,559.8 648.4,556.1 658.5,559.8 668.6,559.8 678.7,559.8 688.8,327.7 698.9,559.8 709.0,502.2 719.1,559.8 729.2,559.8 739.4,559.8 749.5,559.8 759.6,559.8 769.7,559.8 779.8,559.3 789.9,559.8 800.0,559.8 810.1,559.8" stroke="#c8c814" stroke-width="1"/>
<polyline points="173.2,559.8 183.3,559.8 193.4,559.8 203.5,559.8 213.6,559.8 223.8,559.8 233.9,559.8 244.0,559.8 254.1,559.8 264.2,559.8 274.3,559.8 284.4,559.8 294.5,559.8 304.6,559.8 314.7,559.8 324.8,559.8 335.0,559.8 345.1,559.8 355.2,559.8 365.3,559.8 375.4,559.8 385.5,559.8 395.6,559.8 405.7,559.8 415.8,559.8 425.9,559.8 436.1,559.8 446.2,559.8 456.3,559.8 466.4,559.8 476.5,559.8 486.6,559.8 496.7,517.2 506.8,559.8 516.9,559.8 527.0,559.8 537.2,556.1 547.3,420.0 557.4,555.4 567.5,532.9 577.6,559.8 587.7,559.8 597.8,559.8 607.9,559.8 618.0,559.8 628.1,559.8 638.3,420.3 648.4,557.3 658.5,537.7 668.6,559.8 678.7,495.0 688.8,559.8 698.9,559.8 709.0,559.8 719.1,559.6 729.2,548.7 739.4,559.8 749.5,559.8 759.6,415.4 769.7,500.5 779.8,548.9 789.9,559.8 800.0,559.8 810.1,557.5" stroke="#d2b40a" stroke-width="1"/>
<polyline points="173.2,559.8 183.3,553.6 193.4,559.8 203.5,559.8 213.6,559.8 223.8,559.8 233.9,559.8 244.0,559.8 254.1,559.8 264.2,559.8 274.3,559.8 284.4,559.8 294.5,559.8 304.6,559.8 314.7,559.8 324.8,559.8 335.0,559.8 345.1,559.8 355.2,559.8 365.3,559.8 375.4,559.8 385.5,559.8 395.6,559.8 405.7,559.8 415.8,559.8 425.9,559.8 436.1,559.8 446.2,559.8 456.3,559.8 466.4,559.8 476.5,559.8 486.6,559.8 496.7,551.6 506.8,559.8 516.9,559.8 527.0,559.8 537.2,559.8 547.3,559.8 557.4,559.8 567.5,559.8 577.6,559.8 587.7,545.0 597.8,559.8 607.9,559.8 618.0,559.8 628.1,538.7 638.3,559.8 648.4,559.8 658.5,559.8 668.6,500.0 678.7,559.8 688.8,550.9 698.9,559.8 709.0,559.8 719.1,483.8 729.2,559.8 739.4,559.8 749.5,559.8 759.6,559.8 769.7,559.8 779.8,557.4 789.9,559.8 800.0,559.8 810.1,559.8" stroke="#d2a014" stroke-width="1"/>
<polyline points="173.2,559.8 183.3,559.8 193.4,559.8 203.5,559.8 213.6,559.8 223.8,559.8 233.9,559.8 244.0,559.8 254.1,559.8 264.2,559.8 274.3,559.8 284.4,559.8 294.5,559.8 304.6,559.8 314.7,559.8 324.8,559.8 335.0,559.8 345.1,559.8 355.2,559.8 365.3,559.8 375.4,559.8 385.5,559.8 395.6,559.8 405.7,559.8 415.8,559.8 425.9,559.8 436.1,559.8 446.2,559.8 456.3,559.8 466.4,559.8 476.5,559.8 486.6,559.8 496.7,559.8 506.8,549.5 516.9,559.8 527.0,559.8 537.2,559.8 547.3,551.2 557.4,553.0 567.5,559.8 577.6,559.8 587.7,546.1 597.8,559.8 607.9,559.8 618.0,559.8 628.1,533.8 638.3,553.3 648.4,559.8 658.5,559.8 668.6,559.8 678.7,559.8 688.8,559.8 698.9,559.8 709.0,559.8 719.1,533.9 729.2,200.0 739.4,559.8 749.5,559.8 759.6,559.2 769.7,550.5 779.8,559.8 789.9,559.8 800.0,559.8 810.1,559.8" stroke="#d28c14" stroke-width="1"/>
<polyline points="173.2,559.8 183.3,559.8 193.4,559.8 203.5,559.8 213.6,559.8 223.8,559.8 233.9,559.8 244.0,559.8 254.1,559.8 264.2,559.8 274.3,559.8 284.4,559.8 294.5,559.8 304.6,559.8 314.7,559.8 324.8,559.8 335.0,559.8 345.1,559.8 355.2,559.8 365.3,559.8 375.4,559.8 385.5,559.8 395.6,559.8 405.7,559.8 415.8,557.5 425.9,557.5 436.1,559.8 446.2,559.8 456.3,559.8 466.4,559.8 476.5,559.8 486.6,559.8 496.7,559.8 506.8,559.8 516.9,559.8 527.0,554.9 537.2,559.8 547.3,525.0 557.4,559.8 567.5,528.4 577.6,559.8 587.7,555.9 597.8,559.8 607.9,559.8 618.0,559.8 628.1,451.2 638.3,559.8 648.4,470.0 658.5,556.9 668.6,539.0 678.7,558.7 688.8,550.6 698.9,559.8 709.0,559.8 719.1,559.8 729.2,557.1 739.4,260.0 749.5,559.8 759.6,559.8 769.7,559.8 779.8,559.2 789.9,555.7 800.0,559.8 810.1,559.8" stroke="#d27814" stroke-width="1"/>
<polyline points="173.2,559.8 183.3,559.8 193.4,559.8 203.5,559.8 213.6,559.8 223.8,559.8 233.9,559.8 244.0,559.8 254.1,559.8 264.2,559.8 274.3,559.8 284.4,559.8 294.5,559.8 304.6,559.8 314.7,559.8 324.8,559.8 335.0,559.8 345.1,559.8 355.2,559.8 365.3,559.8 375.4,559.8 385.5,559.8 395.6,559.8 405.7,559.8 415.8,559.8 425.9,559.8 436.1,559.8 446.2,559.8 456.3,559.8 466.4,559.8 476.5,559.8 486.6,559.8 496.7,558.2 506.8,559.8 516.9,472.4 527.0,559.8 537.2,559.8 547.3,549.1 557.4,559.8 567.5,559.8 577.6,559.8 587.7,559.8 597.8,559.8 607.9,559.8 618.0,559.8 628.1,536.9 638.3,559.8 648.4,559.8 658.5,559.6 668.6,559.8 678.7,559.8 688.8,559.8 698.9,490.0 709.0,524.6 719.1,559.8 729.2,559.8 739.4,559.8 749.5,515.8 759.6,550.7 769.7,539.4 779.8,559.8 789.9,559.8 800.0,559.8 810.1,559.8" stroke="#c86e14" stroke-width="1"/>
<polyline points="173.2,559.8 183.3,559.8 193.4,559.8 203.5,559.8 213.6,559.8 223.8,559.8 233.9,559.8 244.0,559.8 254.1,559.8 264.2,559.8 274.3,559.8 284.4,559.8 294.5,559.8 304.6,559.8 314.7,559.8 324.8,559.8 335.0,559.8 345.1,559.8 355.2,559.8 365.3,559.8 375.4,559.8 385.5,559.8 395.6,559.8 405.7,559.8 415.8,559.8 425.9,559.8 436.1,559.8 446.2,559.8 456.3,559.8 466.4,559.8 476.5,559.8 486.6,559.8 496.7,559.8 506.8,559.8 516.9,554.8 527.0,559.8 537.2,559.8 547.3,559.8 557.4,559.8 567.5,559.8 577.6,558.9 587.7,559.8 597.8,559.8 607.9,559.8 618.0,559.8 628.1,559.8 638.3,559.8 648.4,557.2 658.5,559.8 668.6,480.0 678.7,559.8 688.8,559.8 698.9,540.8 709.0,537.8 719.1,544.6 729.2,548.5 739.4,559.8 749.5,487.0 759.6,482.0 769.7,559.8 779.8,559.8 789.9,559.8 800.0,559.8 810.1,559.8" stroke="#c85a14" stroke-width="1"/>
<polyline points="173.2,559.8 183.3,559.8 193.4,559.8 203.5,559.8 213.6,559.8 223.8,559.8 233.9,559.8 244.0,559.8 254.1,559.8 264.2,559.8 274.3,559.8 284.4,559.8 294.5,559.8 304.6,559.8 314.7,559.8 324.8,559.8 335.0,559.8 345.1,559.8 355.2,559.8 365.3,559.8 375.4,559.8 385.5,559.8 395.6,559.8 405.7,559.8 415.8,559.8 425.9,559.8 436.1,559.8 446.2,559.8 456.3,559.8 466.4,559.8 476.5,559.8 486.6,559.8 496.7,559.8 506.8,559.8 516.9,487.0 527.0,559.8 537.2,517.5 547.3,559.8 557.4,559.8 567.5,550.5 577.6,559.8 587.7,557.6 597.8,559.8 607.9,556.4 618.0,539.1 628.1,559.8 638.3,551.6 648.4,559.8 658.5,538.6 668.6,559.8 678.7,559.8 688.8,536.9 698.9,559.8 709.0,559.8 719.1,559.8 729.2,559.8 739.4,559.8 749.5,542.8 759.6,556.6 769.7,531.6 779.8,559.8 789.9,559.8 800.0,559.8 810.1,548.1" stroke="#c85028" stroke-width="1"/>
<polyline points="173.2,559.8 183.3,559.8 193.4,559.8 203.5,559.8 213.6,559.8 223.8,559.8 233.9,559.8 244.0,559.8 254.1,559.8 264.2,559.8 274.3,559.8 284.4,559.8 294.5,559.8 304.6,559.8 314.7,559.8 324.8,559.8 335.0,559.8 345.1,559.8 355.2,559.8 365.3,559.8 375.4,559.8 385.5,559.8 395.6,559.8 405.7,559.8 415.8,559.8 425.9,559.8 436.1,559.8 446.2,559.8 456.3,559.8 466.4,559.8 476.5,559.8 486.6,550.0 496.7,534.2 506.8,556.4 516.9,542.8 527.0,559.8 537.2,534.6 547.3,543.6 557.4,559.8 567.5,550.0 577.6,559.8 587.7,559.8 597.8,500.4 607.9,559.8 618.0,559.8 628.1,509.6 638.3,548.1 648.4,559.8 658.5,559.8 668.6,559.8 678.7,559.8 688.8,550.9 698.9,559.8 709.0,380.0 719.1,559.8 729.2,559.8 739.4,559.8 749.5,559.8 759.6,529.7 769.7,559.8 779.8,553.1 789.9,559.8 800.0,554.2 810.1,552.8" stroke="#aa321e" stroke-width="1"/>
<polyline points="173.2,559.8 183.3,559.8 193.4,559.8 203.5,559.8 213.6,559.8 223.8,559.8 233.9,559.8 244.0,559.8 254.1,559.8 264.2,559.8 274.3,559.8 284.4,559.8 294.5,559.8 304.6,559.8 314.7,559.8 324.8,559.8 335.0,559.8 345.1,559.8 355.2,559.8 365.3,559.8 375.4,559.8 385.5,559.8 395.6,559.8 405.7,559.8 415.8,559.8 425.9,559.8 436.1,559.8 446.2,559.8 456.3,559.8 466.4,559.8 476.5,559.8 486.6,559.8 496.7,557.0 506.8,480.0 516.9,559.8 527.0,499.6 537.2,525.3 547.3,552.3 557.4,559.8 567.5,559.8 577.6,559.8 587.7,559.8 597.8,389.3 607.9,559.8 618.0,554.0 628.1,549.5 638.3,559.8 648.4,559.8 658.5,559.8 668.6,554.7 678.7,527.8 688.8,559.8 698.9,559.8 709.0,555.4 719.1,559.8 729.2,536.4 739.4,559.8 749.5,559.8 759.6,559.8 769.7,556.9 779.8,534.7 789.9,559.8 800.0,559.8 810.1,559.8" stroke="#a01e1e" stroke-width="1"/>
<polyline points="173.2,285.6 183.3,286.6 193.4,290.0 203.5,293.9 213.6,298.2 223.7,295.5 233.8,295.7 243.9,299.6 254.0,298.6 264.1,289.0 274.2,287.0 284.3,286.0 294.4,285.0 304.5,287.8 314.6,283.0 324.7,280.7 334.8,288.2 344.9,290.1 355.0,291.0 365.1,295.3 375.2,301.6 385.3,300.0 395.4,298.1 405.5,299.5 415.6,301.9 425.7,293.4 435.8,292.5 445.9,285.9 456.0,287.0 466.1,286.4 476.2,286.4 486.3,290.6 496.4,291.5 506.5,297.4 516.6,298.3 526.7,302.0 536.8,306.0 546.9,310.0 557.0,314.2 567.1,314.4 577.2,316.5 587.3,310.9 597.4,316.8 607.5,324.4 617.6,322.6 627.7,320.0 637.8,319.0 647.9,317.0 658.0,315.1 668.1,313.0 678.2,312.9 688.3,312.9 698.4,308.0 708.5,303.2 718.6,307.0 728.7,312.0 738.8,315.4 748.9,313.1 759.0,312.0 769.1,310.8 779.2,309.7 789.3,308.6 799.4,306.3 809.5,305.2" stroke="#f04848" stroke-width="3.1" stroke-opacity="0.92"/>
<polyline points="173.6,560.5 480.0,560.5 497.9,557.5 508.3,551.5 518.8,548.5 526.0,548.5 536.7,541.0 547.0,544.0 557.5,548.5 568.0,554.5 578.4,535.0 588.9,535.0 597.8,542.5 608.2,554.5 618.7,553.0 629.0,541.0 641.0,537.5 649.0,541.2 659.4,548.7 668.5,551.0 678.8,552.6 689.3,533.8 699.7,553.2 710.2,551.7 719.1,527.8 729.6,530.8 738.5,527.8 749.0,547.2 759.4,544.2 769.9,554.7 780.3,552.6 790.8,556.2 799.7,558.6 810.2,553.2" stroke="#ffffff" stroke-width="3.1" stroke-opacity="0.95"/>
<polyline points="173.6,560.5 526.0,560.5 536.7,559.0 547.0,550.0 557.5,557.5 566.5,536.6 577.0,415.8 587.4,529.0 597.8,556.0 608.2,533.6 617.2,556.0 627.0,559.0 637.0,559.0 649.0,556.2 658.0,538.3 668.4,547.2 678.8,556.2 689.0,559.0 699.7,559.0 719.1,436.7 729.6,556.2 740.0,557.7 750.5,511.4 761.0,538.3 770.0,556.2 780.0,559.0 790.0,559.0 800.0,559.0 810.0,559.0" stroke="#0000ff" stroke-width="3.2"/>
<polyline points="173.6,560.5 517.3,560.5 527.7,502.3 538.0,560.5 810.5,560.5" stroke="#00e000" stroke-width="3"/>
<polyline points="173.2,318.0 183.3,285.0 193.4,278.0 203.5,280.8 213.6,284.7 223.7,286.0 233.8,288.0 243.9,286.0 254.0,276.4 264.1,264.8 274.2,261.0 284.3,258.0 294.4,254.2 304.5,240.0 314.6,221.0 324.7,216.0 334.8,207.4 344.9,186.0 355.0,166.7 365.1,156.0 375.2,157.0 385.3,164.8 395.4,170.0 405.5,158.0 415.6,150.3 425.7,178.4 435.8,201.6 445.9,217.7 456.0,239.5 466.1,232.0 476.2,238.4 486.3,233.3 496.4,236.5 506.5,242.5 516.6,250.0 526.7,235.5 536.8,231.6 546.9,220.0 557.0,225.8 567.1,231.6 577.2,242.5 587.3,255.5 597.4,274.5 607.5,307.0 617.6,317.0 627.7,315.1 637.8,315.1 647.9,317.0 658.0,338.3 668.1,344.5 678.2,337.0 688.3,327.4 698.4,300.3 708.5,284.8 718.6,260.6 728.7,310.0 738.8,336.8 748.9,366.2 759.0,382.0 769.1,379.8 779.2,386.6 789.3,352.7 799.4,339.0 809.5,333.4" stroke="#0000ff" stroke-width="3.3"/>
<polyline points="173.2,310.3 183.3,286.6 193.4,282.7 203.5,283.2 213.6,288.0 223.7,290.0 233.8,291.0 243.9,287.0 254.0,277.4 264.1,266.7 274.2,258.0 284.3,247.4 294.4,240.6 304.5,228.0 314.6,213.2 324.7,211.2 334.8,197.7 344.9,177.4 355.0,167.7 365.1,160.0 375.2,176.4 385.3,198.7 395.4,186.0 405.5,171.6 415.6,163.8 425.7,207.4 435.8,212.2 445.9,234.0 456.0,226.0 466.1,235.0 476.2,243.7 486.3,234.0 496.4,231.5 506.5,227.5 516.6,224.5 526.7,298.0 536.8,337.0 546.9,353.5 557.0,344.8 567.1,347.7" stroke="#00e000" stroke-width="3.1"/>
<polyline points="173.2,307.4 183.3,283.2 193.4,279.8 203.5,280.3 213.6,285.6 223.7,288.0 233.8,289.0 243.9,286.0 254.0,278.3 264.1,267.7 274.2,262.9 284.3,261.9 294.4,257.0 304.5,245.0 314.6,228.6 324.7,215.0 334.8,204.5 344.9,193.8 355.0,194.8 365.1,184.2 375.2,176.4 385.3,176.4 395.4,173.5 405.5,167.7 415.6,177.4 425.7,197.7 435.8,201.6 445.9,212.6 456.0,221.6 466.1,226.1 476.2,228.7 486.3,231.3 496.4,241.3 506.5,251.0 516.6,256.7 526.7,261.6 536.8,262.5 546.9,263.0 557.0,263.0 567.1,263.5 577.2,269.5 587.3,271.6 597.4,281.3 607.5,291.0 617.6,294.8 627.7,294.8 637.8,295.8 647.9,301.6 658.0,311.2 668.1,313.5 678.2,314.8 688.3,316.7 698.4,313.8 708.5,312.9 718.6,313.8 728.7,321.6 738.8,321.0 748.9,315.4 759.0,307.5 769.1,296.2 779.2,298.4 789.3,299.5 799.4,299.5 809.5,305.2" stroke="#ffffff" stroke-width="3.1" stroke-opacity="0.95"/>
</g>
<rect x="163.5" y="30.5" width="647.0" height="530.0" fill="none" stroke="#e0e0e0" stroke-width="1"/>
<line x1="807.0" y1="546.5" x2="810.5" y2="546.5" stroke="#e0e0e0" stroke-width="1"/>
<line x1="805.5" y1="533.5" x2="810.5" y2="533.5" stroke="#e0e0e0" stroke-width="1"/>
<line x1="807.0" y1="520.5" x2="810.5" y2="520.5" stroke="#e0e0e0" stroke-width="1"/>
<line x1="805.5" y1="507.5" x2="810.5" y2="507.5" stroke="#e0e0e0" stroke-width="1"/>
<line x1="807.0" y1="493.5" x2="810.5" y2="493.5" stroke="#e0e0e0" stroke-width="1"/>
<line x1="805.5" y1="480.5" x2="810.5" y2="480.5" stroke="#e0e0e0" stroke-width="1"/>
<line x1="807.0" y1="467.5" x2="810.5" y2="467.5" stroke="#e0e0e0" stroke-width="1"/>
<line x1="805.5" y1="454.5" x2="810.5" y2="454.5" stroke="#e0e0e0" stroke-width="1"/>
<line x1="807.0" y1="440.5" x2="810.5" y2="440.5" stroke="#e0e0e0" stroke-width="1"/>
<line x1="805.5" y1="427.5" x2="810.5" y2="427.5" stroke="#e0e0e0" stroke-width="1"/>
<line x1="807.0" y1="414.5" x2="810.5" y2="414.5" stroke="#e0e0e0" stroke-width="1"/>
<line x1="805.5" y1="401.5" x2="810.5" y2="401.5" stroke="#e0e0e0" stroke-width="1"/>
<line x1="807.0" y1="387.5" x2="810.5" y2="387.5" stroke="#e0e0e0" stroke-width="1"/>
<line x1="805.5" y1="374.5" x2="810.5" y2="374.5" stroke="#e0e0e0" stroke-width="1"/>
<line x1="807.0" y1="361.5" x2="810.5" y2="361.5" stroke="#e0e0e0" stroke-width="1"/>
<line x1="805.5" y1="348.5" x2="810.5" y2="348.5" stroke="#e0e0e0" stroke-width="1"/>
<line x1="807.0" y1="335.5" x2="810.5" y2="335.5" stroke="#e0e0e0" stroke-width="1"/>
<line x1="805.5" y1="321.5" x2="810.5" y2="321.5" stroke="#e0e0e0" stroke-width="1"/>
<line x1="807.0" y1="308.5" x2="810.5" y2="308.5" stroke="#e0e0e0" stroke-width="1"/>
<line x1="805.5" y1="295.5" x2="810.5" y2="295.5" stroke="#e0e0e0" stroke-width="1"/>
<line x1="807.0" y1="282.5" x2="810.5" y2="282.5" stroke="#e0e0e0" stroke-width="1"/>
<line x1="805.5" y1="268.5" x2="810.5" y2="268.5" stroke="#e0e0e0" stroke-width="1"/>
<line x1="807.0" y1="255.5" x2="810.5" y2="255.5" stroke="#e0e0e0" stroke-width="1"/>
<line x1="805.5" y1="242.5" x2="810.5" y2="242.5" stroke="#e0e0e0" stroke-width="1"/>
<line x1="807.0" y1="229.5" x2="810.5" y2="229.5" stroke="#e0e0e0" stroke-width="1"/>
<line x1="805.5" y1="215.5" x2="810.5" y2="215.5" stroke="#e0e0e0" stroke-width="1"/>
<line x1="807.0" y1="202.5" x2="810.5" y2="202.5" stroke="#e0e0e0" stroke-width="1"/>
<line x1="805.5" y1="189.5" x2="810.5" y2="189.5" stroke="#e0e0e0" stroke-width="1"/>
<line x1="807.0" y1="176.5" x2="810.5" y2="176.5" stroke="#e0e0e0" stroke-width="1"/>
<line x1="805.5" y1="162.5" x2="810.5" y2="162.5" stroke="#e0e0e0" stroke-width="1"/>
<line x1="807.0" y1="149.5" x2="810.5" y2="149.5" stroke="#e0e0e0" stroke-width="1"/>
<line x1="805.5" y1="136.5" x2="810.5" y2="136.5" stroke="#e0e0e0" stroke-width="1"/>
<line x1="807.0" y1="123.5" x2="810.5" y2="123.5" stroke="#e0e0e0" stroke-width="1"/>
<line x1="805.5" y1="109.5" x2="810.5" y2="109.5" stroke="#e0e0e0" stroke-width="1"/>
<line x1="807.0" y1="96.5" x2="810.5" y2="96.5" stroke="#e0e0e0" stroke-width="1"/>
<line x1="805.5" y1="83.5" x2="810.5" y2="83.5" stroke="#e0e0e0" stroke-width="1"/>
<line x1="807.0" y1="70.5" x2="810.5" y2="70.5" stroke="#e0e0e0" stroke-width="1"/>
<line x1="805.5" y1="56.5" x2="810.5" y2="56.5" stroke="#e0e0e0" stroke-width="1"/>
<line x1="807.0" y1="43.5" x2="810.5" y2="43.5" stroke="#e0e0e0" stroke-width="1"/></svg>
</body></html>
